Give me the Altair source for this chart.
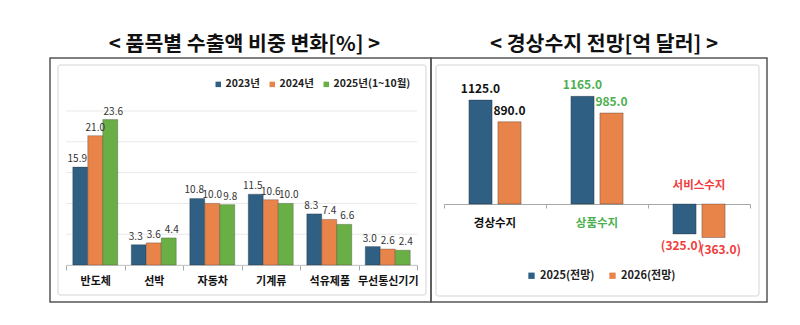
import altair as alt
import pandas as pd

# ---------------- data ----------------
items = ["반도체", "선박", "자동차", "기계류", "석유제품", "무선통신기기"]
years = ["2023년", "2024년", "2025년(1~10월)"]
share_2023 = [15.9, 3.3, 10.8, 11.5, 8.3, 3.0]
share_2024 = [21.0, 3.6, 10.0, 10.6, 7.4, 2.6]
share_2025 = [23.6, 4.4, 9.8, 10.0, 6.6, 2.4]
left_ticks = [0, 5, 10, 15, 20, 25]

balances = ["경상수지", "상품수지", "서비스수지"]
outlooks = ["2025(전망)", "2026(전망)"]
bal_2025 = [1125.0, 1165.0, -325.0]
bal_2026 = [890.0, 985.0, -363.0]

left_title = "< 품목별 수출액 비중 변화[%] >"
right_title = "< 경상수지 전망[억 달러] >"

# ---------------- tables ----------------
left_rows = []
for yr, vals in zip(years, [share_2023, share_2024, share_2025]):
    for it, v in zip(items, vals):
        left_rows.append({"item": it, "year": yr, "value": v})
left_df = pd.DataFrame(left_rows)
tick_df = pd.DataFrame({"t": left_ticks})

right_rows = []
for ol, vals in zip(outlooks, [bal_2025, bal_2026]):
    for c, v in zip(balances, vals):
        right_rows.append({"cat": c, "series": ol, "v": v})
right_df = pd.DataFrame(right_rows)
cat_df = pd.DataFrame({"cat": balances, "v": bal_2025})
one = pd.DataFrame({"k": [0]})

# ---------------- styles ----------------
FONT = "Noto Sans CJK KR"
NUMFONT = "Liberation Sans Narrow, Noto Sans CJK KR"
BLUE, ORANGE, GREEN = "#2F5F82", "#E8834A", "#6AAF45"
LBL_GREEN, LBL_RED = "#4CB050", "#F03C3C"
LW, LH = 381, 244
RW, RH = 336, 244

# ---------------- left panel ----------------
lx = alt.X("item:N", sort=items,
           scale=alt.Scale(range=[16, 367], paddingInner=0, paddingOuter=0),
           axis=alt.Axis(title=None, orient="bottom", offset=-37, labelFont=FONT,
                         labelFontSize=11, labelFontWeight="bold", labelColor="#111",
                         labelPadding=5, tickSize=5, tickBand="extent",
                         domainColor="#a8a8a8", tickColor="#a8a8a8", labelAngle=0,
                         grid=False))
lxo = alt.XOffset("year:N", sort=years, scale=alt.Scale(domain=years, paddingInner=0, paddingOuter=0.45))
lyscale = alt.Scale(domain=[-6.0, 33.6], nice=False, zero=False)

frame_l = alt.Chart(one).mark_rect(fill="transparent", stroke="#e4e4e4", strokeWidth=1.5,
                                   cornerRadius=3).encode(
    x=alt.value(8), x2=alt.value(LW - 5), y=alt.value(7), y2=alt.value(LH - 7))

grid_l = alt.Chart(tick_df).mark_rule(color="#e8e8e8", strokeWidth=1).encode(
    y=alt.Y("t:Q", scale=lyscale, axis=None),
    x=alt.value(16), x2=alt.value(367))

bars_l = alt.Chart(left_df).mark_bar(stroke="#1a1a1a", strokeOpacity=0.25, strokeWidth=1).encode(
    x=lx, xOffset=lxo,
    y=alt.Y("value:Q", stack=None, scale=lyscale, axis=None),
    y2=alt.datum(0),
    color=alt.Color("year:N", sort=years,
                    scale=alt.Scale(domain=years, range=[BLUE, ORANGE, GREEN]),
                    legend=alt.Legend(title=None, orient="none", legendX=163, legendY=21,
                                      direction="horizontal", symbolType="square",
                                      symbolSize=30, labelFont=FONT, labelFontSize=10.5,
                                      labelFontWeight="bold", labelColor="#222",
                                      labelOffset=2, columnPadding=7, symbolStrokeWidth=0)))

text_layers = []
for yr, ddx in zip(years, [-3, 0, 3]):
    text_layers.append(
        alt.Chart(left_df).transform_filter(f"datum.year == '{yr}'").mark_text(
            baseline="bottom", dy=-3, dx=ddx, font=NUMFONT, fontSize=10, color="#333").encode(
            x=lx, xOffset=lxo,
            y=alt.Y("value:Q", stack=None, scale=lyscale, axis=None),
            text=alt.Text("value:Q", format=".1f")))

left = alt.layer(frame_l, grid_l, bars_l, *text_layers).properties(
    width=LW, height=LH,
    title=alt.TitleParams(left_title, font=FONT, fontSize=20.5, fontWeight="bold",
                          color="#111", offset=3, dx=4, anchor="middle"))

# ---------------- right panel ----------------
rx = alt.X("cat:N", sort=balances,
           scale=alt.Scale(range=[13, 319], paddingInner=0, paddingOuter=0),
           axis=alt.Axis(title=None, orient="bottom", offset=-98, labels=False,
                         tickSize=4, tickBand="extent", domainColor="#a8a8a8",
                         tickColor="#a8a8a8", grid=False))
rxo = alt.XOffset("series:N", sort=outlooks,
                  scale=alt.Scale(domain=outlooks, paddingInner=0.2, paddingOuter=0.86))
ryscale = alt.Scale(domain=[-1061, 1580], nice=False, zero=False)
fill_cat = alt.Fill("cat:N", scale=alt.Scale(domain=balances, range=["#111111", LBL_GREEN, LBL_RED]),
                    legend=None)

frame_r = alt.Chart(one).mark_rect(fill="transparent", stroke="#e4e4e4", strokeWidth=1.5,
                                   cornerRadius=3).encode(
    x=alt.value(5), x2=alt.value(RW - 8), y=alt.value(7), y2=alt.value(RH - 6))

bars_r = alt.Chart(right_df).mark_bar(stroke="#1a1a1a", strokeOpacity=0.3, strokeWidth=1).encode(
    x=rx, xOffset=rxo,
    y=alt.Y("v:Q", stack=None, scale=ryscale, axis=None),
    y2=alt.datum(0),
    color=alt.Color("series:N", sort=outlooks,
                    scale=alt.Scale(domain=outlooks, range=[BLUE, ORANGE]),
                    legend=alt.Legend(title=None, orient="none", legendX=95, legendY=212,
                                      direction="horizontal", symbolType="square",
                                      symbolSize=40, labelFont=FONT, labelFontSize=11,
                                      labelFontWeight="bold", labelColor="#222",
                                      labelOffset=3, columnPadding=12, symbolStrokeWidth=0)))

vals_base = alt.Chart(right_df).transform_calculate(
    label="datum.v < 0 ? '(' + format(-datum.v, '.1f') + ')' : format(datum.v, '.1f')")
val_pos = vals_base.transform_filter("datum.v >= 0").mark_text(
    baseline="bottom", dy=-4, font=NUMFONT, fontSize=12, fontWeight="bold").encode(
    x=rx, xOffset=rxo, y=alt.Y("v:Q", stack=None, scale=ryscale, axis=None),
    text="label:N", fill=fill_cat)
neg_layers = []
for s, ddx in zip(outlooks, [-3, 7]):
    neg_layers.append(
        vals_base.transform_filter(f"datum.v < 0 && datum.series == '{s}'").mark_text(
            baseline="top", dy=7, dx=ddx, font=NUMFONT, fontSize=12, fontWeight="bold").encode(
            x=rx, xOffset=rxo, y=alt.Y("v:Q", stack=None, scale=ryscale, axis=None),
            text="label:N", fill=fill_cat))

cat_pos = alt.Chart(cat_df).transform_filter("datum.v >= 0").mark_text(
    baseline="middle", dy=20, font=FONT, fontSize=11.5, fontWeight="bold").encode(
    x=rx, y=alt.datum(0, scale=ryscale), text="cat:N", fill=fill_cat)
cat_neg = alt.Chart(cat_df).transform_filter("datum.v < 0").mark_text(
    baseline="middle", dy=-18, font=FONT, fontSize=11.5, fontWeight="bold").encode(
    x=rx, y=alt.datum(0, scale=ryscale), text="cat:N", fill=fill_cat)

right = alt.layer(frame_r, bars_r, val_pos, *neg_layers, cat_pos, cat_neg).properties(
    width=RW, height=RH,
    title=alt.TitleParams(right_title, font=FONT, fontSize=20.5, fontWeight="bold",
                          color="#111", offset=3, dx=5, anchor="middle"))

chart = alt.hconcat(left, right, spacing=0, bounds="flush").resolve_scale(
    color="independent", xOffset="independent", fill="independent",
    x="independent", y="independent",
).resolve_legend(color="independent").properties(
    padding={"left": 49, "top": 33, "right": 0, "bottom": 0},
    background="white",
).configure_view(stroke="#555555", strokeWidth=1.5)

chart.save("out.html", embed_options={"renderer": "svg", "actions": False})
